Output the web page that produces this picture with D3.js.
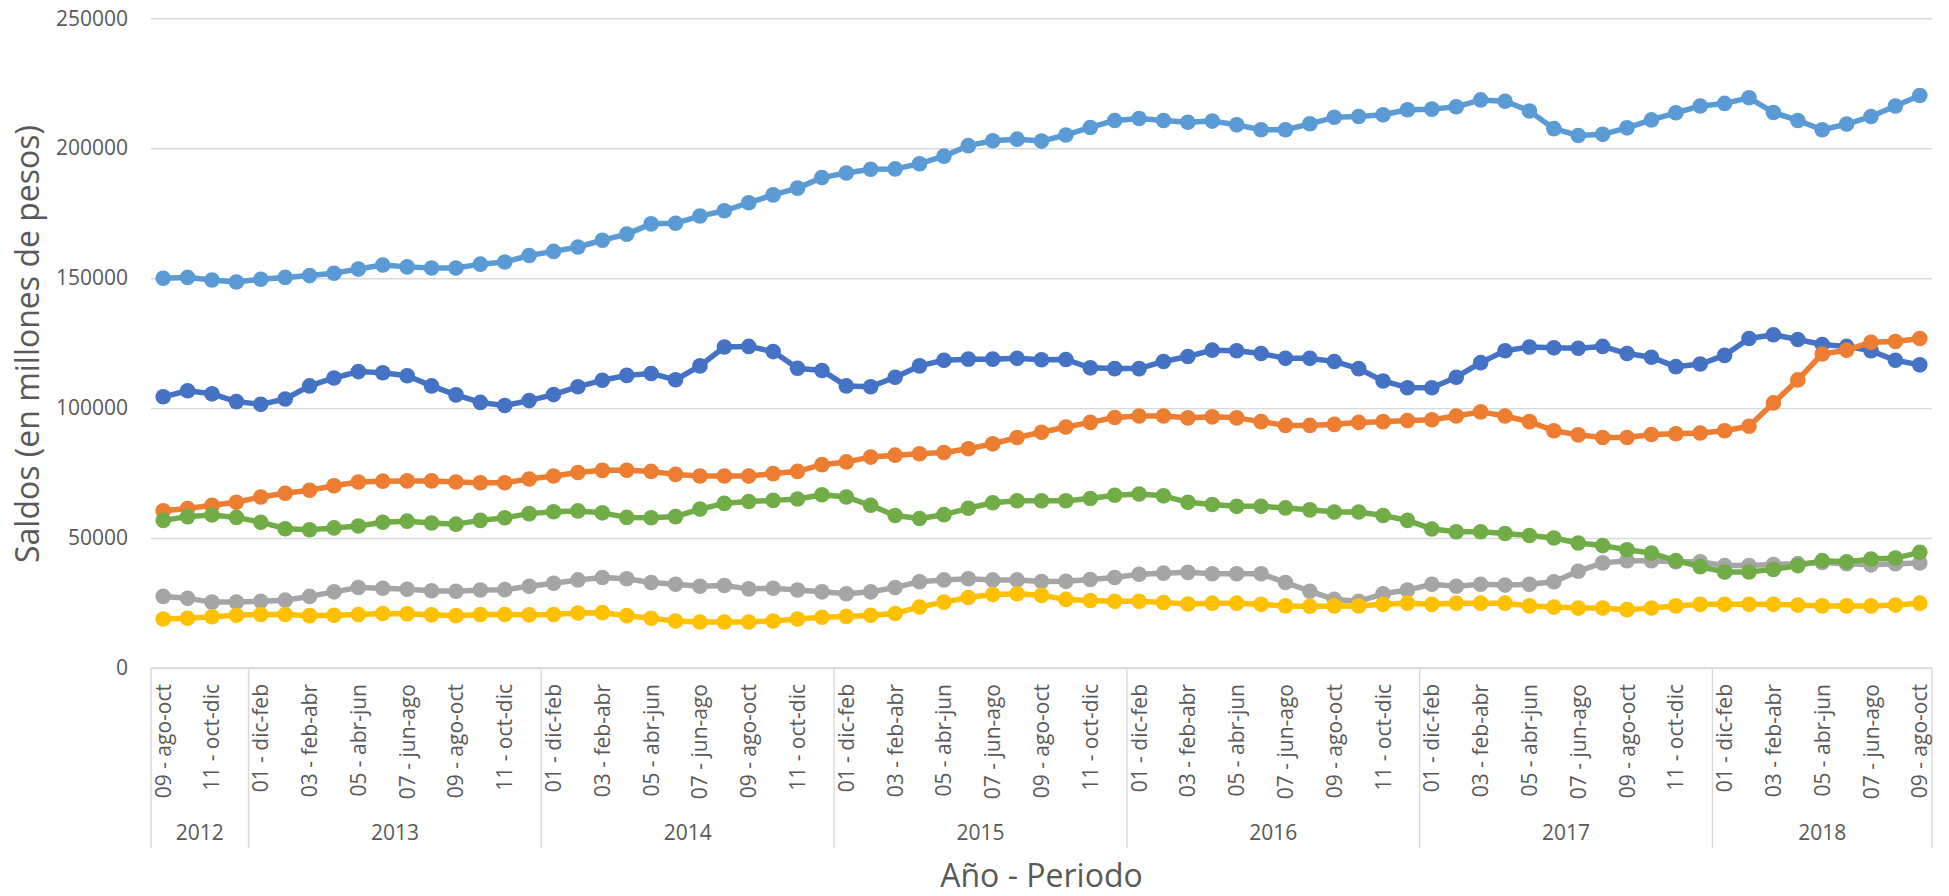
<!DOCTYPE html>
<html>
<head>
<meta charset="utf-8">
<script src="https://cdn.jsdelivr.net/npm/d3@7"></script>
<style>
  html, body { margin: 0; padding: 0; background: #fff; }
  svg { display: block; }
  text { font-family: "Open Sans", "Liberation Sans", sans-serif; fill: #595959; }
</style>
</head>
<body>
<svg id="chart" width="1949" height="896"></svg>
<script>
// ---------------- DATA ----------------
const categoryYears = [
  "2012","2012","2012","2012",
  "2013","2013","2013","2013","2013","2013","2013","2013","2013","2013","2013","2013",
  "2014","2014","2014","2014","2014","2014","2014","2014","2014","2014","2014","2014",
  "2015","2015","2015","2015","2015","2015","2015","2015","2015","2015","2015","2015",
  "2016","2016","2016","2016","2016","2016","2016","2016","2016","2016","2016","2016",
  "2017","2017","2017","2017","2017","2017","2017","2017","2017","2017","2017","2017",
  "2018","2018","2018","2018","2018","2018","2018","2018","2018"
];
const categoryPeriods = [
  "09 - ago-oct","10 - sep-nov","11 - oct-dic","12 - nov-ene",
  "01 - dic-feb","02 - ene-mar","03 - feb-abr","04 - mar-may","05 - abr-jun","06 - may-jul","07 - jun-ago","08 - jul-sep","09 - ago-oct","10 - sep-nov","11 - oct-dic","12 - nov-ene",
  "01 - dic-feb","02 - ene-mar","03 - feb-abr","04 - mar-may","05 - abr-jun","06 - may-jul","07 - jun-ago","08 - jul-sep","09 - ago-oct","10 - sep-nov","11 - oct-dic","12 - nov-ene",
  "01 - dic-feb","02 - ene-mar","03 - feb-abr","04 - mar-may","05 - abr-jun","06 - may-jul","07 - jun-ago","08 - jul-sep","09 - ago-oct","10 - sep-nov","11 - oct-dic","12 - nov-ene",
  "01 - dic-feb","02 - ene-mar","03 - feb-abr","04 - mar-may","05 - abr-jun","06 - may-jul","07 - jun-ago","08 - jul-sep","09 - ago-oct","10 - sep-nov","11 - oct-dic","12 - nov-ene",
  "01 - dic-feb","02 - ene-mar","03 - feb-abr","04 - mar-may","05 - abr-jun","06 - may-jul","07 - jun-ago","08 - jul-sep","09 - ago-oct","10 - sep-nov","11 - oct-dic","12 - nov-ene",
  "01 - dic-feb","02 - ene-mar","03 - feb-abr","04 - mar-may","05 - abr-jun","06 - may-jul","07 - jun-ago","08 - jul-sep","09 - ago-oct"
];

const yTicks = [0, 50000, 100000, 150000, 200000, 250000];

const serieAzul = [
  104350,106700,105500,102500,101450,103500,108550,111600,114050,113600,112450,108550,105100,102200,101000,102900,105200,108250,110700,
  112600,113350,110900,116250,123500,123750,121750,115350,114500,108550,108250,111900,116250,118400,118850,118850,119150,118600,
  118700,115500,115200,115200,117950,119850,122300,122050,121000,119150,119150,117950,115200,110450,107850,107850,111900,
  117500,122050,123500,123200,123050,123750,121000,119550,115950,116950,120300,126800,128250,126400,124500,123750,122050,118400,116650
];
const serieNaranja = [
  60500,61400,62600,63800,65800,67250,68400,70150,71600,71900,72000,72000,71600,71300,71300,72750,73900,75200,76050,
  76100,75650,74500,73900,73900,73900,74800,75650,78250,79300,81150,81900,82450,82900,84350,86250,88700,90700,
  92750,94500,96400,96950,96950,96250,96650,96250,94800,93350,93350,93750,94500,94800,95200,95500,96950,
  98550,96950,94800,91300,89700,88700,88700,89850,90150,90450,91300,93050,102000,110850,120850,122300,125350,125650,126800
];
const serieGris = [
  27550,26800,25350,25350,25650,26100,27550,29300,31000,30700,30300,29700,29550,30000,30150,31450,32600,33900,34800,
  34350,32900,32200,31450,31750,30450,30700,30000,29300,28550,29300,31000,33200,33900,34350,33900,33900,33300,
  33350,34050,34800,36100,36500,36800,36250,36250,36250,32900,29550,26400,25650,28550,30000,32200,31450,
  32200,31900,32200,33200,37250,40450,41300,41300,40850,40850,39400,39400,39850,40150,40600,40150,39700,40150,40450
];
const serieAmarillo = [
  18850,19150,19700,20300,20600,20600,20150,20300,20600,21000,20850,20450,20150,20600,20600,20450,20600,21150,21300,
  20150,19150,18100,17700,17700,17700,18100,18850,19550,19850,20300,21000,23500,25350,27100,28250,28550,27950,
  26400,25950,25650,25650,25200,24650,24950,24950,24500,23900,23750,23900,23900,24500,24950,24500,24950,
  24950,24950,23900,23500,23050,23050,22450,23050,23900,24500,24500,24500,24500,24200,23900,23900,23900,24200,24950
];
const serieCeleste = [
  150000,150300,149300,148550,149600,150300,151000,151900,153500,155100,154350,153900,153900,155400,156200,158700,160300,162000,164600,
  166950,170900,171150,173900,175950,179000,182050,184650,188700,190450,191900,192050,194050,196950,201000,202900,203500,202750,
  205100,208000,210700,211450,210700,210000,210450,209000,207100,207100,209400,211900,212200,212900,214800,215050,215950,
  218600,218100,214350,207550,204900,205350,207850,210900,213650,216250,217250,219400,213750,210700,207100,209300,212200,216250,220300
];
const serieVerde = [
  56800,58250,58850,57950,56100,53600,53200,53900,54650,56100,56500,55800,55350,56800,57800,59400,60150,60450,59700,
  57950,57800,58250,61150,63350,64050,64500,65050,66650,65800,62600,58700,57550,59000,61450,63600,64350,64350,
  64350,65200,66500,66950,66250,63750,62900,62200,62200,61600,60850,60000,60000,58700,56800,53500,52450,
  52450,51750,51000,50000,48100,47100,45500,44200,41300,39000,36950,36950,37950,39400,41300,40850,41900,42300,44500
];

const seriesList = [
  { name: "azul", values: serieAzul, color: "#4472C4" },
  { name: "naranja", values: serieNaranja, color: "#ED7D31" },
  { name: "gris", values: serieGris, color: "#A5A5A5" },
  { name: "amarillo", values: serieAmarillo, color: "#FFC000" },
  { name: "celeste", values: serieCeleste, color: "#5B9BD5" },
  { name: "verde", values: serieVerde, color: "#70AD47" }
];

// ---------------- LAYOUT ----------------
(function () {
const svg = d3.select("#chart");
const plotLeft = 151, plotRight = 1932, plotTop = 18.3, plotBottom = 668;
const keys = categoryPeriods.map((p, i) => categoryYears[i] + "|" + p + "|" + i);

const x = d3.scaleBand().domain(keys).range([plotLeft, plotRight]).padding(0);
const y = d3.scaleLinear().domain([0, 250000]).range([plotBottom, plotTop]);
const cx = i => x(keys[i]) + x.bandwidth() / 2;

// Gridlines + y tick labels via axis
const yAxis = d3.axisLeft(y).tickValues(yTicks).tickSize(-(plotRight - plotLeft)).tickPadding(23).tickFormat(d3.format("d"));
const gy = svg.append("g").attr("transform", `translate(${plotLeft},0)`).call(yAxis);
gy.select(".domain").remove();
gy.selectAll(".tick line").attr("stroke", "#D9D9D9").attr("stroke-width", 1.4);
gy.selectAll(".tick text").attr("font-size", 21).attr("fill", "#595959")
  .style("font-family", '"Open Sans", "Liberation Sans", sans-serif');

// Category axis (multi-level)
const axisColor = "#D9D9D9";
const levelBottom = 848;
svg.append("line").attr("x1", plotLeft).attr("x2", plotRight).attr("y1", plotBottom).attr("y2", plotBottom)
  .attr("stroke", axisColor).attr("stroke-width", 1.4);

const yearGroups = [];
categoryYears.forEach((yr, i) => {
  const last = yearGroups[yearGroups.length - 1];
  if (!last || last.year !== yr) yearGroups.push({ year: yr, start: i, end: i });
  else last.end = i;
});
const boundaries = [plotLeft].concat(yearGroups.map(g => x(keys[g.end]) + x.bandwidth()));
svg.selectAll("line.sep").data(boundaries).join("line").attr("class", "sep")
  .attr("x1", d => d).attr("x2", d => d).attr("y1", plotBottom).attr("y2", levelBottom)
  .attr("stroke", axisColor).attr("stroke-width", 1.4);

svg.selectAll("text.yr").data(yearGroups).join("text").attr("class", "yr")
  .attr("x", g => (x(keys[g.start]) + x(keys[g.end]) + x.bandwidth()) / 2)
  .attr("y", 840).attr("text-anchor", "middle").attr("font-size", 21)
  .text(g => g.year);

svg.selectAll("text.per").data(categoryPeriods.map((p, i) => ({ p, i })).filter(d => d.i % 2 === 0))
  .join("text").attr("class", "per")
  .attr("transform", d => `translate(${cx(d.i) + 7.5},684) rotate(-90)`)
  .attr("text-anchor", "end").attr("font-size", 21)
  .text(d => d.p);

// Lines and markers
const line = d3.line().x((d, i) => cx(i)).y(d => y(d));
seriesList.forEach(s => {
  const g = svg.append("g").attr("class", "serie-" + s.name);
  g.append("path").datum(s.values).attr("d", line)
    .attr("fill", "none").attr("stroke", s.color).attr("stroke-width", 5.5)
    .attr("stroke-linejoin", "round");
  g.selectAll("circle").data(s.values).join("circle")
    .attr("cx", (d, i) => cx(i)).attr("cy", d => y(d)).attr("r", 7.8)
    .attr("fill", s.color);
});

// Axis titles
svg.append("text").attr("transform", "translate(39,344) rotate(-90)")
  .attr("text-anchor", "middle").attr("font-size", 32)
  .text("Saldos (en millones de pesos)");
svg.append("text").attr("x", (plotLeft + plotRight) / 2).attr("y", 887)
  .attr("text-anchor", "middle").attr("font-size", 32)
  .text("Año - Periodo");
})();
</script>
</body>
</html>
